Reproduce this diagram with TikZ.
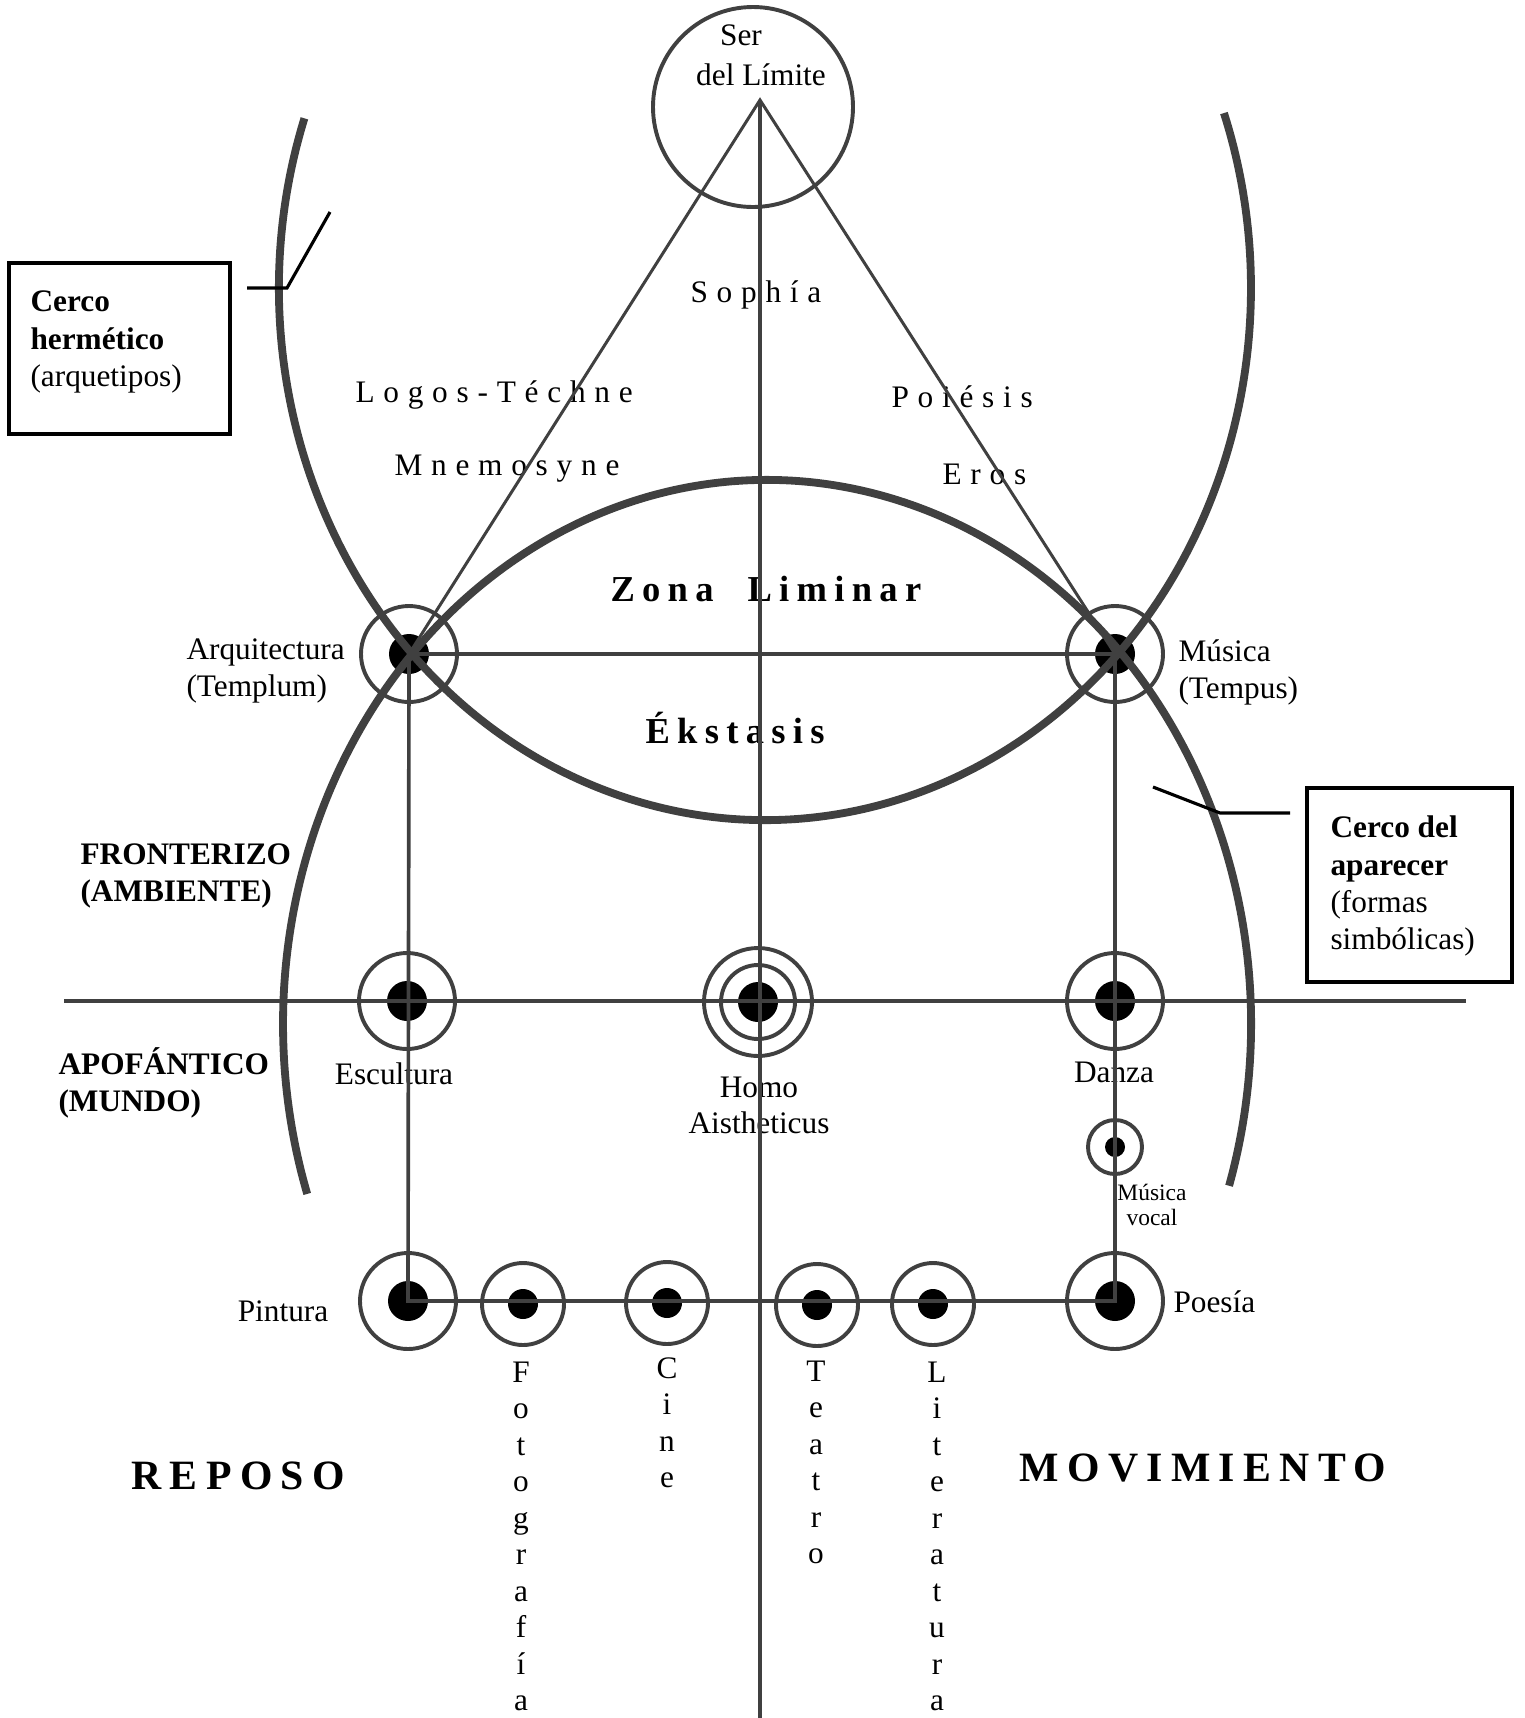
\documentclass[tikz,border=0pt]{standalone}
\usepackage{fontspec}
\setmainfont{Liberation Serif}
\newfontfamily\lsfont[LetterSpace=28]{Liberation Serif}
\newfontfamily\lsbfont[LetterSpace=20]{Liberation Serif}
\definecolor{lngray}{RGB}{64,64,64}
\newcommand{\pxu}{0.1347mm}
\usetikzlibrary{calc}
\tikzset{
  arcline/.style={draw=lngray, line width=3pt},
  axisline/.style={draw=lngray, line width=1.5pt},
  thinline/.style={draw=lngray, line width=1.15pt},
  sideline/.style={draw=lngray, line width=1.4pt},
  ring/.style={draw=lngray, line width=1.5pt},
  frame/.style={draw=black, line width=1.5pt},
  pointer/.style={draw=black, line width=1.2pt},
  lbl/.style={font=\fontsize{12}{14.2}\selectfont, inner sep=0pt, align=left, anchor=west},
  clbl/.style={font=\fontsize{12}{13.8}\selectfont, inner sep=0pt, align=center},
  slbl/.style={font=\fontsize{9}{9.6}\selectfont, inner sep=0pt, align=center},
  blbl/.style={font=\fontsize{12}{14.2}\selectfont\bfseries, inner sep=0pt, align=left, anchor=west},
  spaced/.style={font=\fontsize{12}{14}\selectfont\lsfont, inner sep=0pt, anchor=base west},
  bspaced/.style={font=\fontsize{14}{16}\selectfont\lsbfont\bfseries, inner sep=0pt, anchor=base west},
  bigspaced/.style={font=\fontsize{16}{18}\selectfont\lsbfont\bfseries, inner sep=0pt, anchor=base west},
  vword/.style={font=\fontsize{12}{14}\selectfont, inner sep=0pt, align=center, anchor=north},
}

\begin{document}
\begin{tikzpicture}[x=\pxu, y=\pxu]
\useasboundingbox (0,0) rectangle (1525,-1718);

% --- Hubs ---
\coordinate (apex) at (760,-100);
\coordinate (ser) at (753,-107);
\coordinate (axisend) at (760,-1718);
\coordinate (arq) at (409,-654);
\coordinate (mus) at (1115,-654);
\coordinate (esc) at (407,-1001);
\coordinate (homo) at (758,-1002);
\coordinate (dan) at (1115,-1001);
\coordinate (voc) at (1115,-1147);
\coordinate (pin) at (408,-1301);
\coordinate (poe) at (1115,-1301);
\coordinate (foto) at (523,-1304);
\coordinate (cine) at (667,-1303);
\coordinate (teatro) at (817,-1305);
\coordinate (lit) at (933,-1304);
\coordinate (west) at (64,-1001);
\coordinate (east) at (1466,-1001);
\coordinate (hermc) at (765,-288);
\coordinate (aparc) at (767,-1024);

% --- Texts of the upper zone ---
\node[clbl] (ser1) at (741,-35) {Ser};
\node[clbl] (ser2) at (761,-75) {del Límite};
\node[spaced] (sophia) at (690,-302) {Sophía};
\node[spaced] (logos) at (355,-402) {Logos-Téchne};
\node[spaced] (mnemo) at (394,-475) {Mnemosyne};
\node[spaced] (poiesis) at (891,-407) {Poiésis};
\node[spaced] (eros) at (942,-484) {Eros};
\node[bspaced] (zona) at (610,-601) {Zona\hspace{13pt}Liminar};
\node[bspaced] (ekst) at (645,-743) {Ékstasis};

% --- Labels of the hubs ---
\node[lbl] (arqlbl) at (186,-671) {Arquitectura\\(Templum)};
\node[lbl] (muslbl) at (1178,-672) {Música\\(Tempus)};
\node[blbl] (fronlbl) at (80,-876) {FRONTERIZO\\(AMBIENTE)};
\node[blbl] (apolbl) at (58,-1083) {APOFÁNTICO\\(MUNDO)};
\node[clbl] (esclbl) at (394,-1074) {Escultura};
\node[clbl] (homolbl) at (759,-1105) {Homo\\Aistheticus};
\node[clbl] (danlbl) at (1114,-1072) {Danza};
\node[slbl] (voclbl) at (1152,-1205) {Música\\vocal};
\node[clbl] (pinlbl) at (283,-1311) {Pintura};
\node[lbl] (poelbl) at (1173,-1302) {Poesía};

% --- Vertical words ---
\node[vword] (fotolbl) at (521,-1361) {F\\o\\t\\o\\g\\r\\a\\f\\í\\a};
\node[vword] (cinelbl) at (667,-1357) {C\\i\\n\\e};
\node[vword] (teatrolbl) at (816,-1360) {T\\e\\a\\t\\r\\o};
\node[vword] (litlbl) at (937,-1361) {L\\i\\t\\e\\r\\a\\t\\u\\r\\a};

\node[bigspaced] (reposo) at (131,-1489) {REPOSO};
\node[bigspaced] (movim) at (1019,-1481) {MOVIMIENTO};

% --- Rings and dots ---
\draw[ring] (ser) circle[radius=100];
\draw[ring] (arq) circle[radius=48];
\fill (arq) circle[radius=20];
\draw[ring] (mus) circle[radius=48];
\fill (mus) circle[radius=20];
\draw[ring] (esc) circle[radius=48];
\fill (esc) circle[radius=20];
\draw[ring] (homo) circle[radius=54];
\draw[ring] (homo) circle[radius=37];
\fill (homo) circle[radius=20];
\draw[ring] (dan) circle[radius=48];
\fill (dan) circle[radius=20];
\draw[ring] (voc) circle[radius=27];
\fill (voc) circle[radius=10];
\draw[ring] (pin) circle[radius=48];
\fill (pin) circle[radius=20];
\draw[ring] (poe) circle[radius=48];
\fill (poe) circle[radius=20];
\draw[ring] (foto) circle[radius=41];
\fill (foto) circle[radius=15];
\draw[ring] (cine) circle[radius=41];
\fill (cine) circle[radius=15];
\draw[ring] (teatro) circle[radius=41];
\fill (teatro) circle[radius=15];
\draw[ring] (lit) circle[radius=41];
\fill (lit) circle[radius=15];

% --- Lines ---
\draw[thinline] (arq) -- (apex) -- (mus);
\draw[axisline] (apex) -- (axisend);
\draw[draw=lngray, line width=1.9pt] (arq) -- (mus);
\draw[sideline] (arq) -- (pin) -- (poe) -- (mus);
\draw[axisline] (west) -- (east);

% --- Cerco hermético y cerco del aparecer ---
\draw[arcline] (hermc) ++(161.4:486 and 532)
  arc[start angle=161.4, end angle=379.2, x radius=486, y radius=532];
\draw[arcline] (aparc) ++(-17.3:484 and 544)
  arc[start angle=-17.3, end angle=198.2, x radius=484, y radius=544];

% --- Boxes ---
\node[frame, minimum width=221*\pxu, minimum height=171*\pxu] (hermbox) at (119.5,-348.5) {};
\node[lbl] (hermtext) at (30,-342) {\textbf{Cerco}\\\textbf{hermético}\\(arquetipos)};
\draw[pointer] (247,-288) -- (287,-288) -- (330,-212);

\node[frame, minimum width=205*\pxu, minimum height=194*\pxu] (aparbox) at (1409.5,-885) {};
\node[lbl] (apartext) at (1330,-886) {\textbf{Cerco del}\\\textbf{aparecer}\\(formas\\simbólicas)};
\draw[pointer] (1153,-787) -- (1220,-813) -- (1290,-813);

\end{tikzpicture}
\end{document}
